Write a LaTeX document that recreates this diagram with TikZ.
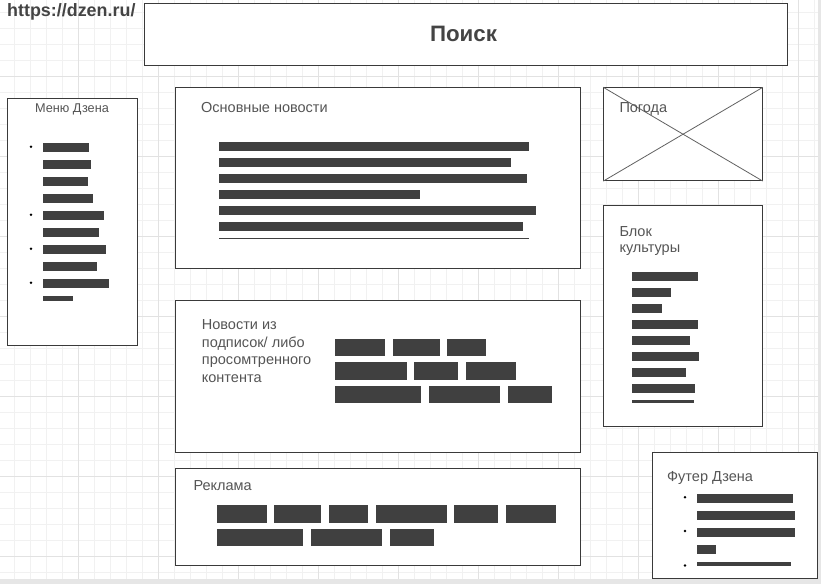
\documentclass[tikz,border=0pt]{standalone}
\usepackage{fontspec}
\setmainfont{Liberation Sans}
\definecolor{gridminor}{HTML}{F1F1F1}
\definecolor{gridmajor}{HTML}{E2E2E2}
\definecolor{edgeband}{HTML}{E6E6E6}
\definecolor{boxline}{HTML}{3A3A3A}
\definecolor{barc}{HTML}{404040}
\definecolor{labelc}{HTML}{555555}
\definecolor{titlec}{HTML}{444444}
\newcommand\blk[4]{\fill[barc] (#1,#2) rectangle (#3,#4);}
\tikzset{
  box/.style={draw=boxline, line width=1.1pt, fill=white, inner sep=0pt, anchor=north west},
  lbl/.style={text=labelc, font=\fontsize{14.5}{16}\selectfont, inner sep=0pt, anchor=west, align=left},
}
\begin{document}
\begin{tikzpicture}[x=1pt,y=-1pt]
\useasboundingbox (0,0) rectangle (821,584);
\fill[white] (0,0) rectangle (821,584);
% grid
\begin{scope}
\clip (0,0) rectangle (821,584);
\foreach \k in {0,...,50} {\draw[gridminor, line width=0.8pt] ({14.3+16*\k},0) -- ({14.3+16*\k},584);}
\foreach \k in {0,...,35} {\draw[gridminor, line width=0.8pt] (0,{12.3+16*\k}) -- (821,{12.3+16*\k});}
\foreach \k in {0,...,9} {\draw[gridmajor, line width=0.8pt] ({78.3+80*\k},0) -- ({78.3+80*\k},584);}
\foreach \k in {0,...,6} {\draw[gridmajor, line width=0.8pt] (0,{76.3+80*\k}) -- (821,{76.3+80*\k});}
\end{scope}
\fill[edgeband] (0,579.3) rectangle (821,584);
\fill[edgeband] (818.3,0) rectangle (821,584);

% url
\node[text=titlec, font=\bfseries\fontsize{17.9}{20}\selectfont, inner sep=0pt, anchor=west] (url) at (7,11.5) {https://dzen.ru/};

% search
\node[box, minimum width=643pt, minimum height=62.5pt] (search) at (144,2.5) {};
\node[text=titlec, font=\bfseries\fontsize{22.3}{24}\selectfont, inner sep=0pt] (searchlbl) at (463.5,33.5) {Поиск};

% menu
\node[box, minimum width=129.4pt, minimum height=247pt] (menu) at (7.3,98.3) {};
\node[text=labelc, font=\fontsize{12.7}{15}\selectfont, inner sep=0pt] (menulbl) at (72,109.8) {Меню Дзена};
\foreach \y in {146.7,214.7,248.7,282.7} {\fill[black] (31,\y) circle (1.4pt);}
\blk{43}{143}{89}{151.7}
\blk{43}{160}{91}{168.7}
\blk{43}{177}{88}{185.7}
\blk{43}{194}{93}{202.7}
\blk{43}{211}{104}{219.7}
\blk{43}{228}{99}{236.7}
\blk{43}{245}{106}{253.7}
\blk{43}{262}{97}{270.7}
\blk{43}{279}{109}{287.7}
\blk{43}{296}{73}{300.7}

% main news
\node[box, minimum width=404.7pt, minimum height=180.7pt] (mainnews) at (175.3,87.3) {};
\node[lbl] (mainlbl) at (201,107.3) {Основные новости};
\blk{219}{141.7}{529}{150.7}
\blk{219}{157.7}{511}{166.7}
\blk{219}{173.7}{527}{182.7}
\blk{219}{189.7}{420}{198.7}
\blk{219}{205.7}{536}{214.7}
\blk{219}{221.7}{523}{230.7}
\blk{219}{237.8}{529}{238.9}

% weather
\node[box, minimum width=158.4pt, minimum height=92.7pt] (weather) at (603.3,87.3) {};
\draw[boxline!80, line width=0.8pt] (weather.north west) -- (weather.south east);
\draw[boxline!80, line width=0.8pt] (weather.south west) -- (weather.north east);
\node[lbl] (weatherlbl) at (619.3,109) {Погода};

% culture
\node[box, minimum width=159pt, minimum height=220.4pt] (culture) at (603.3,205.3) {};
\node[lbl, anchor=north west] (culturelbl) at (619.3,226.6) {Блок\\культуры};
\blk{631.7}{272.3}{698}{281}
\blk{631.7}{288.3}{671}{297}
\blk{631.7}{304.3}{662}{313}
\blk{631.7}{320.3}{698}{329}
\blk{631.7}{336.3}{690}{345}
\blk{631.7}{352.3}{699}{361}
\blk{631.7}{368.3}{686}{377}
\blk{631.7}{384.3}{695}{393}
\blk{631.7}{400.3}{694}{403}

% subscriptions
\node[box, minimum width=405pt, minimum height=151.7pt] (subs) at (175.3,300.3) {};
\node[lbl, anchor=north west, font=\fontsize{14.5}{17.5}\selectfont] (subslbl) at (201.7,319.4) {Новости из\\подписок/ либо\\просомтренного\\контента};
\blk{335}{339}{385}{355.7}
\blk{393}{339}{440}{355.7}
\blk{447}{339}{486}{355.7}
\blk{335}{362}{407}{379.7}
\blk{414}{362}{458}{379.7}
\blk{466}{362}{516}{379.7}
\blk{335}{386}{421}{402.7}
\blk{429}{386}{500}{402.7}
\blk{508}{386}{552}{402.7}

% ads
\node[box, minimum width=405pt, minimum height=97pt] (ads) at (175.3,468.3) {};
\node[lbl] (adslbl) at (193.3,485.5) {Реклама};
\blk{217}{505}{267}{522.7}
\blk{274}{505}{321}{522.7}
\blk{329}{505}{368}{522.7}
\blk{376}{505}{447}{522.7}
\blk{454}{505}{498}{522.7}
\blk{506}{505}{556}{522.7}
\blk{217}{529}{303}{546}
\blk{311}{529}{382}{546}
\blk{390}{529}{434}{546}

% footer
\node[box, minimum width=165.3pt, minimum height=126pt] (footer) at (651.7,452.3) {};
\node[lbl] (footerlbl) at (667,478.2) {Футер Дзена};
\foreach \y in {497.3,531,565.5} {\fill[black] (685,\y) circle (1.4pt);}
\blk{697}{494}{792.7}{502.7}
\blk{697}{511}{794.7}{519.7}
\blk{697}{528}{794.7}{536.7}
\blk{697}{545}{715.7}{553.7}
\blk{697}{562}{790.7}{565.7}
\end{tikzpicture}
\end{document}
